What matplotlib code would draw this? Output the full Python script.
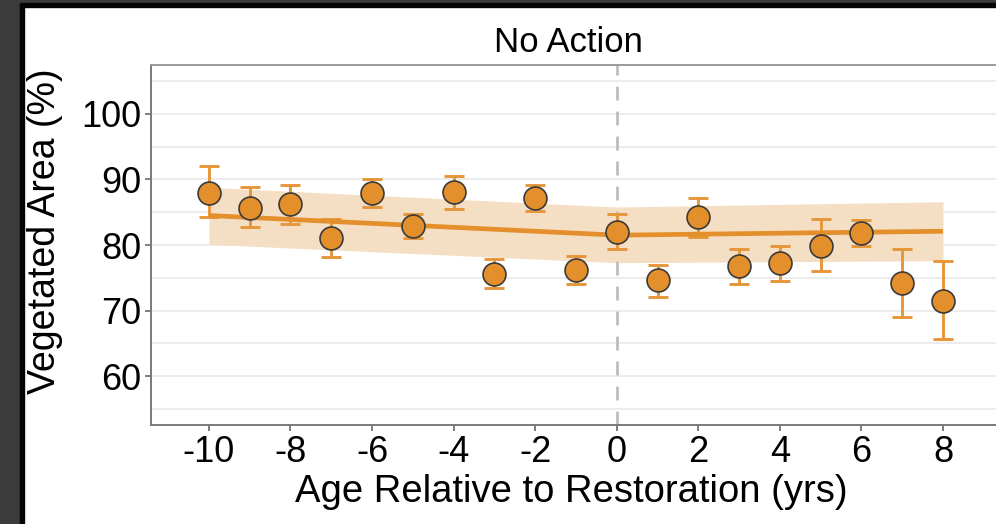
import matplotlib.pyplot as plt
from matplotlib.patches import Rectangle
from matplotlib.ticker import MultipleLocator

plt.rcParams['font.family'] = ['Liberation Sans', 'DejaVu Sans']
plt.rcParams['axes.unicode_minus'] = False

# yearly means and error bar limits
years = [-10, -9, -8, -7, -6, -5, -4, -3, -2, -1, 0, 1, 2, 3, 4, 5, 6, 7, 8]
veg_mean = [88.0, 85.7, 86.2, 81.0, 87.9, 82.9, 88.1, 75.5, 87.1, 76.2,
            82.0, 74.6, 84.2, 76.8, 77.2, 79.9, 81.8, 74.2, 71.5]
veg_hi = [92.1, 88.8, 89.2, 84.0, 90.1, 84.7, 90.6, 77.8, 89.1, 78.3,
          84.7, 76.9, 87.1, 79.4, 79.8, 83.9, 83.8, 79.4, 77.5]
veg_lo = [84.2, 82.7, 83.2, 78.2, 85.8, 81.1, 85.5, 73.4, 85.2, 74.0,
          79.4, 72.0, 81.2, 74.1, 74.5, 76.0, 79.9, 69.0, 65.6]

# segmented fit (knots at -10, 0, 8) with confidence band
fit_x = [-10, 0, 8]
fit_y = [84.5, 81.5, 82.1]
fit_lo = [80.1, 77.3, 77.6]
fit_hi = [88.8, 85.8, 86.6]

orange = '#E38F2B'
bar_col = '#E6963A'

fig = plt.figure(figsize=(9.96, 5.24), dpi=100)
fig.patch.set_facecolor('white')
ax = fig.add_axes([151 / 996, 1 - 425 / 524, 1 - 151 / 996, (425 - 65) / 524])

ax.fill_between(fit_x, fit_lo, fit_hi, color='#F5DFC4', lw=0, zorder=1)
ax.axvline(0, color='#BDBDBD', lw=2.0, ls=(0, (5, 4)), zorder=2)

yerr = [[m - l for m, l in zip(veg_mean, veg_lo)],
        [h - m for m, h in zip(veg_mean, veg_hi)]]
ax.errorbar(years, veg_mean, yerr=yerr, fmt='none', ecolor=bar_col,
            elinewidth=2.1, capsize=7, capthick=2.1, zorder=3)
ax.plot(fit_x, fit_y, color=orange, lw=3.4, solid_capstyle='butt', zorder=4)
ax.plot(years, veg_mean, 'o', ms=16.5, mfc=orange, mec='#3a3a3a', mew=1.2,
        zorder=5)

ax.set_xlim(-11.42, 9.30)
ax.set_ylim(52.52, 107.48)
ax.xaxis.set_major_locator(MultipleLocator(2))
ax.yaxis.set_minor_locator(MultipleLocator(5))
ax.set_yticks([60, 70, 80, 90, 100])
ax.grid(axis='y', which='both', color='#EBEBEB', lw=1.3, zorder=0)
ax.grid(axis='x', visible=False)
ax.set_axisbelow(True)

ax.tick_params(axis='both', which='major', labelsize=26, length=4, width=1.2,
               color='#666666', labelcolor='black', pad=3)
ax.tick_params(axis='y', which='minor', length=0)

for side in ['left', 'bottom']:
    ax.spines[side].set_color('#7a7a7a')
    ax.spines[side].set_linewidth(1.4)
ax.spines['top'].set_color('#9a9a9a')
ax.spines['top'].set_linewidth(1.4)
ax.spines['right'].set_visible(False)

fig.text(568 / 996, 1 - 42 / 524, 'No Action', ha='center', va='center',
         fontsize=25)
fig.text(571 / 996, 1 - 492 / 524, 'Age Relative to Restoration (yrs)',
         ha='center', va='center', fontsize=27.5)
fig.text(45 / 996, 1 - 231 / 524, 'Vegetated Area (%)', ha='center',
         va='center', rotation=90, fontsize=27)

# dark frame around the screenshot edges
fig.patches.append(Rectangle((0, 0), 20 / 996, 1, transform=fig.transFigure,
                             color='#3b3b3b', zorder=10))
fig.patches.append(Rectangle((20 / 996, 0), 4 / 996, 1, transform=fig.transFigure,
                             color='#050505', zorder=10))
fig.patches.append(Rectangle((0, 1 - 3 / 524), 1, 3 / 524, transform=fig.transFigure,
                             color='#3b3b3b', zorder=10))
fig.patches.append(Rectangle((20 / 996, 1 - 7 / 524), 1, 4 / 524,
                             transform=fig.transFigure, color='#050505', zorder=10))

fig.savefig('out.png', dpi=100)
